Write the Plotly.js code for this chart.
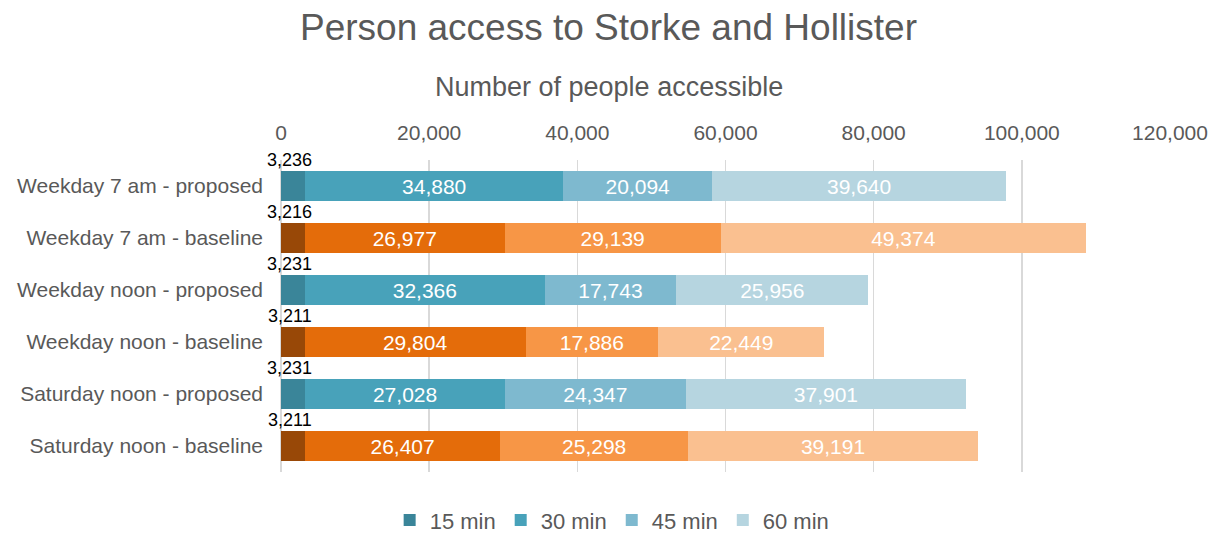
<!DOCTYPE html>
<html>
<head>
<meta charset="utf-8">
<script src="https://cdn.plot.ly/plotly-3.0.1.min.js"></script>
<style>html,body{margin:0;padding:0;background:#fff;}#chart{width:1217px;height:533px;}</style>
</head>
<body>
<div id="chart"></div>
<script>
const categories = [
  "Weekday 7 am - proposed",
  "Weekday 7 am - baseline",
  "Weekday noon - proposed",
  "Weekday noon - baseline",
  "Saturday noon - proposed",
  "Saturday noon - baseline"
];
const seriesNames = ["15 min", "30 min", "45 min", "60 min"];
const min15 = [3236, 3216, 3231, 3211, 3231, 3211];
const min30 = [34880, 26977, 32366, 29804, 27028, 26407];
const min45 = [20094, 29139, 17743, 17886, 24347, 25298];
const min60 = [39640, 49374, 25956, 22449, 37901, 39191];
const xTicks = [0, 20000, 40000, 60000, 80000, 100000, 120000];
const xTickLabels = ["0", "20,000", "40,000", "60,000", "80,000", "100,000", "120,000"];

const blueColors = ["#3A8599", "#48A2BA", "#7EB9CF", "#B6D5E0"];
const orangeColors = ["#984807", "#E46C0A", "#F79646", "#FAC090"];
const isProposed = categories.map(c => c.indexOf("proposed") >= 0);
const FONT = "Liberation Sans, Arial, sans-serif";

const allSeries = [min15, min30, min45, min60];
const traces = allSeries.map((vals, si) => ({
  type: "bar",
  orientation: "h",
  name: seriesNames[si],
  y: categories,
  x: vals,
  marker: {color: isProposed.map(p => p ? blueColors[si] : orangeColors[si]), line: {width: 0}},
  text: si === 0 ? null : vals.map(v => v.toLocaleString("en-US")),
  textposition: si === 0 ? "none" : "inside",
  insidetextanchor: "middle",
  constraintext: "none",
  textfont: {color: "#ffffff", size: 21, family: FONT},
  hoverinfo: "x+name"
}));

const annotations = categories.map((c, i) => ({
  x: min15[i] / 2,
  y: c,
  xref: "x",
  yref: "y",
  text: min15[i].toLocaleString("en-US"),
  showarrow: false,
  yshift: 26,
  xshift: -3,
  font: {color: "#000000", size: 18, family: FONT}
}));
annotations.push({
  text: "Number of people accessible",
  xref: "paper",
  yref: "paper",
  x: 0.369,
  y: 1.235,
  xanchor: "center",
  yanchor: "middle",
  showarrow: false,
  font: {size: 27, color: "#595959", family: FONT}
});

const layout = {
  width: 1217,
  height: 533,
  margin: {l: 281, r: 47, t: 160, b: 61, autoexpand: false},
  paper_bgcolor: "#ffffff",
  plot_bgcolor: "#ffffff",
  font: {family: FONT, color: "#595959", size: 21},
  title: {text: "Person access to Storke and Hollister", font: {size: 37, color: "#595959"}, x: 0.5, xanchor: "center", y: 0.949, yanchor: "middle"},
  barmode: "stack",
  bargap: 0.423,
  xaxis: {
    side: "top",
    range: [0, 120000],
    tickvals: xTicks,
    ticktext: xTickLabels,
    showgrid: true,
    gridcolor: "#D9D9D9",
    gridwidth: 1.5,
    zeroline: true,
    zerolinecolor: "#D9D9D9",
    zerolinewidth: 1.5,
    showline: false,
    ticks: "",
    ticklabelstandoff: 15,
    tickfont: {size: 21, color: "#595959"},
    automargin: false,
    fixedrange: true
  },
  yaxis: {
    range: [5.5, -0.5],
    autorange: false,
    ticks: "",
    ticklabelstandoff: 17,
    tickfont: {size: 21, color: "#595959"},
    showgrid: false,
    showline: false,
    zeroline: false,
    automargin: false,
    fixedrange: true
  },
  legend: {
    orientation: "h",
    x: 0.503,
    xanchor: "center",
    xref: "container",
    y: 0.024,
    yref: "container",
    yanchor: "middle",
    font: {size: 22, color: "#595959"},
    itemwidth: 30,
    traceorder: "normal"
  },
  annotations: annotations,
  showlegend: true
};

Plotly.newPlot("chart", traces, layout, {displayModeBar: false, staticPlot: true});
</script>
</body>
</html>
